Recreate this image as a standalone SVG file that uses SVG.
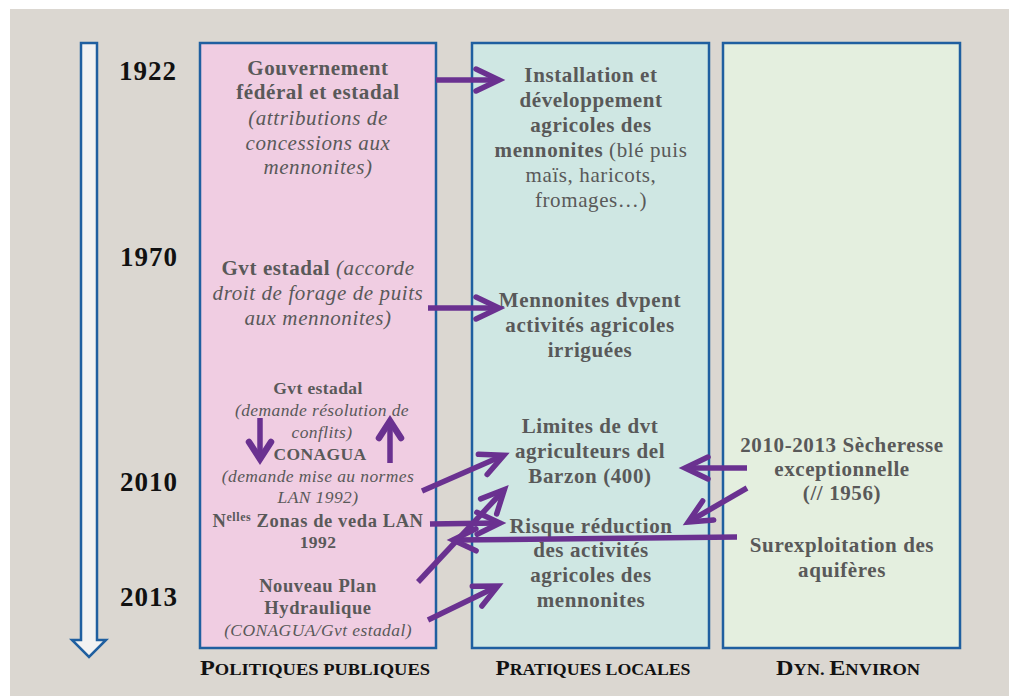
<svg xmlns="http://www.w3.org/2000/svg" width="1009" height="696" viewBox="0 0 1009 696">
<defs>
<style>
.col{stroke:#1f5fa0;stroke-width:2.5}
.t{font-family:"Liberation Serif","Times New Roman",serif;fill:#595959;text-anchor:middle;letter-spacing:0.6px}
.b{font-weight:bold}
.i{font-style:italic;font-weight:normal}
.r{font-weight:normal}
.s{font-size:21px}
.m{font-size:17.5px;letter-spacing:0.4px}
.yr{font-family:"Liberation Serif","Times New Roman",serif;font-weight:bold;font-size:27px;fill:#111;text-anchor:middle;letter-spacing:1px}
.lab{font-family:"Liberation Serif","Times New Roman",serif;font-weight:bold;fill:#111;text-anchor:middle}
.ar{stroke:#6a3190;stroke-width:5.5;fill:none}
</style>
<marker id="ah" markerUnits="userSpaceOnUse" markerWidth="40" markerHeight="40" viewBox="-30 -20 40 40" refX="0" refY="0" orient="auto" overflow="visible">
<path d="M-21,-11 L2,0 L-21,11" fill="none" stroke="#6a3190" stroke-width="5.5" stroke-linecap="round" stroke-linejoin="miter"/>
</marker>
<marker id="ah2" markerUnits="userSpaceOnUse" markerWidth="40" markerHeight="40" viewBox="-30 -20 40 40" refX="0" refY="0" orient="auto" overflow="visible">
<path d="M-15,-11 L2,0 L-15,11" fill="none" stroke="#6a3190" stroke-width="6.5" stroke-linecap="round"/>
</marker>
</defs>
<rect x="10" y="9" width="999" height="687" fill="#dbd7d1"/>
<g id="timeline">
<path d="M81,43 H97 V640 H106 L89,657 L72,640 H81 Z" fill="#f2f2f2" stroke="#1f5fa0" stroke-width="2.5"/>
<text class="yr" x="148" y="80">1922</text>
<text class="yr" x="149" y="266">1970</text>
<text class="yr" x="149" y="491">2010</text>
<text class="yr" x="149" y="606">2013</text>
</g>
<g id="col-politiques">
<rect class="col" x="200" y="43" width="236" height="605" fill="#f0cde2"/>
<text class="lab" x="315" y="675" textLength="230" lengthAdjust="spacingAndGlyphs"><tspan font-size="21">P</tspan><tspan font-size="16">OLITIQUES PUBLIQUES</tspan></text>
</g>
<g id="col-pratiques">
<rect class="col" x="472" y="43" width="237" height="605" fill="#cfe7e3"/>
<text class="lab" x="593" y="675" textLength="195" lengthAdjust="spacingAndGlyphs"><tspan font-size="21">P</tspan><tspan font-size="16">RATIQUES LOCALES</tspan></text>
</g>
<g id="col-environ">
<rect class="col" x="723" y="43" width="237" height="605" fill="#e4efdf"/>
<text class="lab" x="848" y="675" textLength="144" lengthAdjust="spacingAndGlyphs"><tspan font-size="21">D</tspan><tspan font-size="16">YN. </tspan><tspan font-size="21">E</tspan><tspan font-size="16">NVIRON</tspan></text>
</g>
<g id="n-gouv1922">
<text class="t s b" x="318" y="75">Gouvernement</text>
<text class="t s b" x="318" y="99">fédéral et estadal</text>
<text class="t s i" x="318" y="125">(attributions de</text>
<text class="t s i" x="318" y="150">concessions aux</text>
<text class="t s i" x="318" y="174">mennonites)</text>
</g>
<g id="n-gvt1970">
<text class="t s" x="318" y="275"><tspan class="b">Gvt estadal </tspan><tspan class="i">(accorde</tspan></text>
<text class="t s i" x="318" y="300">droit de forage de puits</text>
<text class="t s i" x="318" y="325">aux mennonites)</text>
</g>
<g id="n-gvt2010">
<text class="t m b" x="318" y="394">Gvt estadal</text>
<text class="t m i" x="322" y="416">(demande résolution de</text>
<text class="t m i" x="322" y="438">conflits)</text>
<text class="t m b" x="320" y="460">CONAGUA</text>
<text class="t m i" x="318" y="482">(demande mise au normes</text>
<text class="t m i" x="318" y="503">LAN 1992)</text>
</g>
<g id="n-zonas">
<text class="t b" x="318" y="527" font-size="18.5">N<tspan font-size="12" dy="-6">elles</tspan><tspan dy="6"> Zonas de veda LAN</tspan></text>
<text class="t m b" x="318" y="548">1992</text>
</g>
<g id="n-plan">
<text class="t b" x="318" y="592" font-size="18.5">Nouveau Plan</text>
<text class="t b" x="318" y="614" font-size="18.5">Hydraulique</text>
<text class="t m i" x="318" y="636">(CONAGUA/Gvt estadal)</text>
</g>
<g id="n-install">
<text class="t s b" x="591" y="82">Installation et</text>
<text class="t s b" x="591" y="107">développement</text>
<text class="t s b" x="591" y="132">agricoles des</text>
<text class="t s" x="591" y="157"><tspan class="b">mennonites</tspan><tspan class="r"> (blé puis</tspan></text>
<text class="t s r" x="591" y="182">maïs, haricots,</text>
<text class="t s r" x="591" y="207">fromages…)</text>
</g>
<g id="n-dvpent">
<text class="t s b" x="590" y="307">Mennonites dvpent</text>
<text class="t s b" x="590" y="332">activités agricoles</text>
<text class="t s b" x="590" y="357">irriguées</text>
</g>
<g id="n-limites">
<text class="t s b" x="590" y="433">Limites de dvt</text>
<text class="t s b" x="590" y="458">agriculteurs del</text>
<text class="t s b" x="590" y="483">Barzon (400)</text>
</g>
<g id="n-risque">
<text class="t s b" x="591" y="533">Risque réduction</text>
<text class="t s b" x="591" y="557">des activités</text>
<text class="t s b" x="591" y="582">agricoles des</text>
<text class="t s b" x="591" y="607">mennonites</text>
</g>
<g id="n-secheresse">
<text class="t s b" x="842" y="452">2010-2013 Sècheresse</text>
<text class="t s b" x="842" y="476">exceptionnelle</text>
<text class="t s b" x="842" y="500">(// 1956)</text>
</g>
<g id="n-surexpl">
<text class="t s b" x="842" y="552">Surexploitation des</text>
<text class="t s b" x="842" y="577">aquifères</text>
</g>
<g id="connectors">
<path class="ar" d="M436,80 H497" marker-end="url(#ah)"/>
<path class="ar" d="M428,308 H497" marker-end="url(#ah)"/>
<path class="ar" d="M260,418 V457" marker-end="url(#ah2)"/>
<path class="ar" d="M390,463 V423" marker-end="url(#ah2)"/>
<path class="ar" d="M422,491 L502,456" marker-end="url(#ah)"/>
<path class="ar" d="M418,582 L503,491" marker-end="url(#ah)"/>
<path class="ar" d="M430,524 L498,523" marker-end="url(#ah)"/>
<path class="ar" d="M737,537 L455,540" marker-end="url(#ah)"/>
<path class="ar" d="M747,468 L687,468" marker-end="url(#ah)"/>
<path class="ar" d="M747,488 L690,521" marker-end="url(#ah)"/>
<path class="ar" d="M428,620 L496,587" marker-end="url(#ah)"/>
</g>
</svg>
